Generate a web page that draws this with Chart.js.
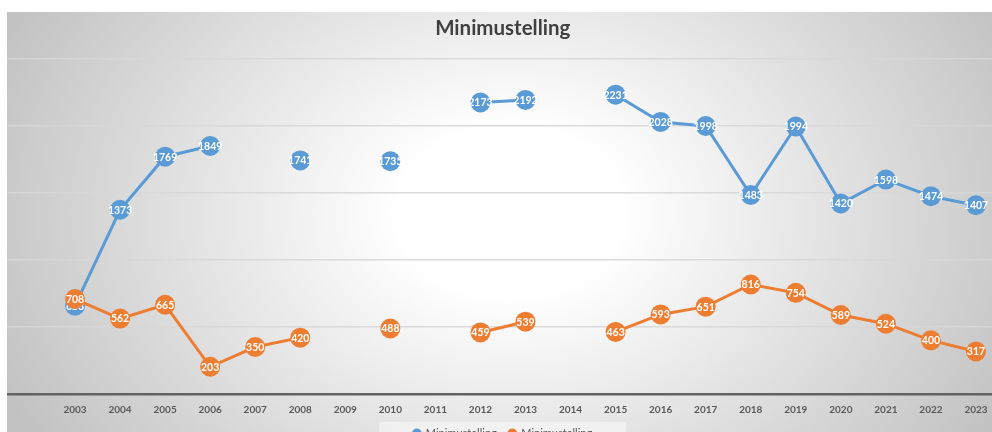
<!DOCTYPE html>
<html>
<head>
<meta charset="utf-8">
<script src="https://cdn.jsdelivr.net/npm/chart.js@4/dist/chart.umd.min.js"></script>
<style>
  html, body { margin: 0; padding: 0; width: 992px; height: 432px; overflow: hidden; background: #fff; }
  #frame {
    position: absolute; left: 7px; top: 12px; width: 1000px; height: 441px;
    background: radial-gradient(ellipse 560px 420px at 503px 200px, #ffffff 0%, #ffffff 20%, #c2c2c2 100%);
  }
</style>
</head>
<body>
<div id="frame"><canvas id="chart"></canvas></div>
<script>
var years = ['2003','2004','2005','2006','2007','2008','2009','2010','2011','2012','2013',
             '2014','2015','2016','2017','2018','2019','2020','2021','2022','2023'];
var blueValues = [658, 1373, 1769, 1849, null, 1741, null, 1735, null, 2173, 2192,
                  null, 2231, 2028, 1998, 1483, 1994, 1420, 1598, 1474, 1407];
var orangeValues = [708, 562, 665, 203, 350, 420, null, 488, null, 459, 539,
                    null, 463, 593, 651, 816, 754, 589, 524, 400, 317];
var seriesNames = ['Minimustelling', 'Minimustelling'];

// white value labels drawn on each marker
var pointLabels = {
  id: 'pointLabels',
  afterDatasetDraw: function(chart, args) {
    var ctx = chart.ctx;
    var ds = chart.data.datasets[args.index];
    ctx.save();
    ctx.font = 'bold 10.5px Lato';
    ctx.fillStyle = '#ffffff';
    ctx.textAlign = 'center';
    ctx.textBaseline = 'middle';
    args.meta.data.forEach(function(pt, i) {
      var v = ds.data[i];
      if (v === null || v === undefined) return;
      ctx.fillText(String(v), pt.x, pt.y + 0.5);
    });
    ctx.restore();
  }
};

// lighter box behind the legend
var legendBox = {
  id: 'legendBox',
  beforeDraw: function(chart) {
    var lg = chart.legend;
    if (!lg || !lg.legendHitBoxes || !lg.legendHitBoxes.length) return;
    var l = Infinity, r = -Infinity, t = Infinity;
    lg.legendHitBoxes.forEach(function(h) {
      l = Math.min(l, h.left); r = Math.max(r, h.left + h.width); t = Math.min(t, h.top);
    });
    var ctx = chart.ctx;
    ctx.save();
    ctx.fillStyle = 'rgba(255,255,255,0.45)';
    ctx.fillRect(l - 34, t - 6, (r - l) + 68, 40);
    ctx.restore();
  }
};

var ctx = document.getElementById('chart').getContext('2d');
var chart = new Chart(ctx, {
  type: 'line',
  data: {
    labels: years,
    datasets: [{
      label: seriesNames[0],
      data: blueValues,
      borderColor: '#5b9bd5',
      backgroundColor: '#5b9bd5',
      borderWidth: 3,
      pointRadius: 10,
      pointHoverRadius: 10,
      pointBorderWidth: 0,
      spanGaps: false,
      order: 2
    }, {
      label: seriesNames[1],
      data: orangeValues,
      borderColor: '#ed7d31',
      backgroundColor: '#ed7d31',
      borderWidth: 3,
      pointRadius: 10,
      pointHoverRadius: 10,
      pointBorderWidth: 0,
      spanGaps: false,
      order: 1
    }]
  },
  options: {
    responsive: true,
    maintainAspectRatio: false,
    animation: false,
    layout: { autoPadding: false, padding: { top: 0, left: 0, right: 8.5, bottom: 4 } },
    plugins: {
      title: {
        display: true,
        text: 'Minimustelling',
        color: '#404040',
        font: { family: 'Lato', size: 20.5, weight: 'bold' },
        padding: { top: 4, bottom: 18 }
      },
      legend: {
        position: 'bottom',
        labels: {
          usePointStyle: true,
          pointStyle: 'circle',
          boxWidth: 7,
          boxHeight: 7,
          padding: 12,
          color: '#595959',
          font: { family: 'Lato', size: 11 },
          sort: function(a, b) { return a.datasetIndex - b.datasetIndex; }
        }
      },
      tooltip: { enabled: false }
    },
    scales: {
      x: {
        type: 'category',
        offset: true,
        grid: { display: false, drawTicks: false },
        border: { display: false },
        afterFit: function(scale) { scale.height = 22; },
        ticks: {
          color: '#595959',
          padding: 10,
          maxRotation: 0,
          autoSkip: false,
          font: { family: 'Lato', size: 10, weight: 'bold' }
        }
      },
      y: {
        min: 0,
        max: 2500,
        border: { display: false },
        ticks: { display: false, stepSize: 500 },
        grid: {
          drawTicks: true,
          tickLength: 45.5,
          color: function(c) { return c.tick && c.tick.value === 0 ? '#626262' : 'rgba(215,215,215,0.9)'; },
          lineWidth: function(c) { return c.tick && c.tick.value === 0 ? 2.5 : 1.5; }
        }
      }
    }
  },
  plugins: [legendBox, pointLabels]
});
</script>
</body>
</html>
